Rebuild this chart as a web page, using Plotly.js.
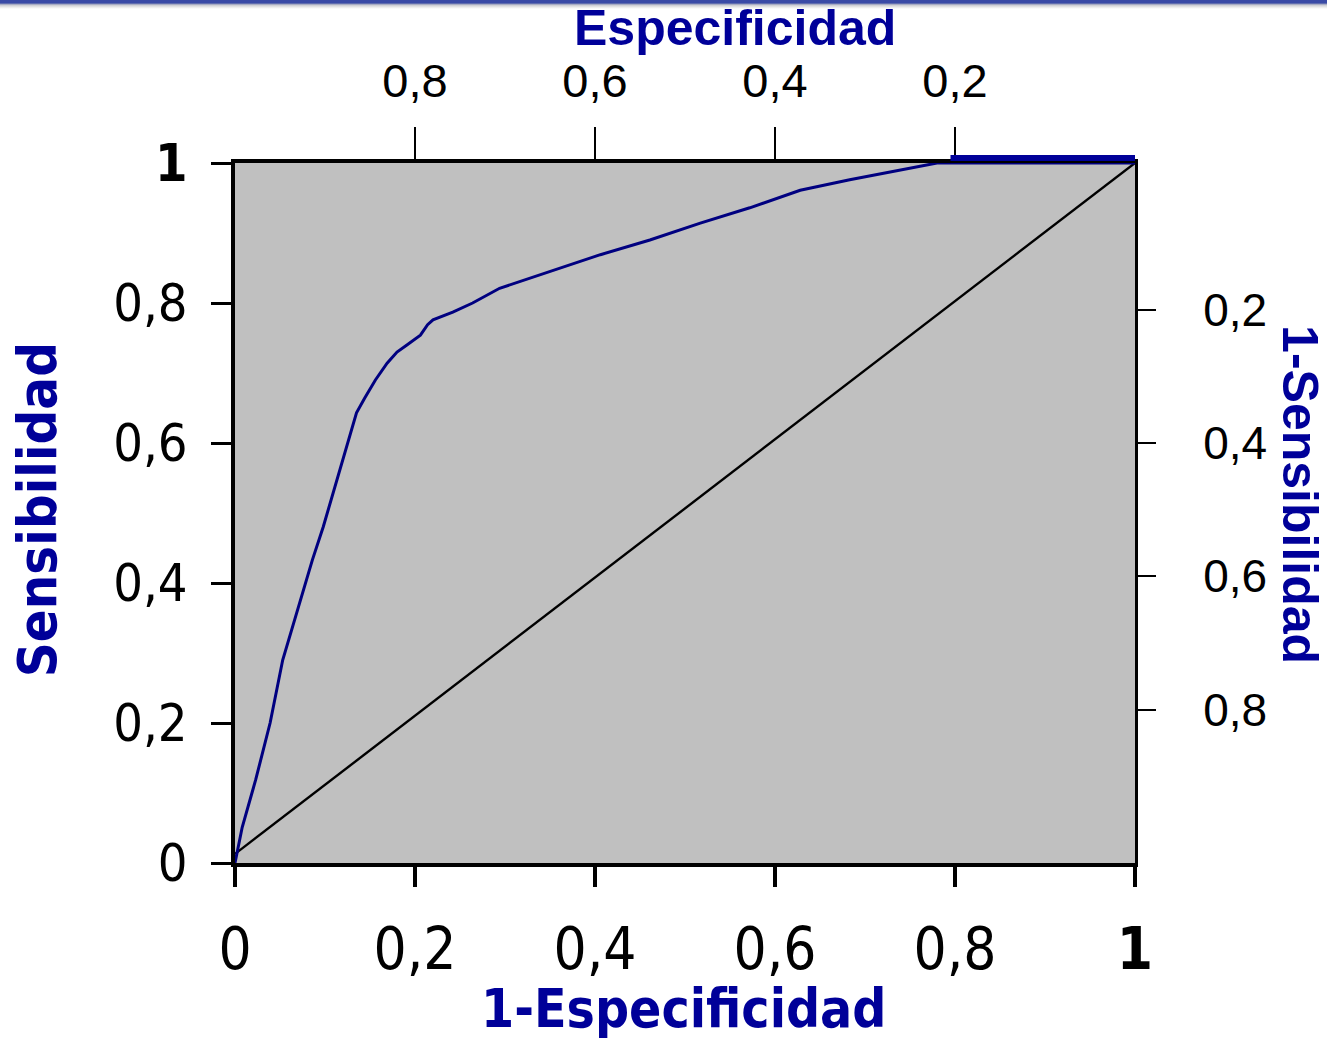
<!DOCTYPE html>
<html>
<head>
<meta charset="utf-8">
<script src="https://cdn.plot.ly/plotly-3.0.1.min.js"></script>
<style>
  html, body { margin: 0; padding: 0; background: #ffffff; }
  #chart { width: 1327px; height: 1038px; }
  #bar { position: absolute; left: 0; top: 0; width: 1327px; height: 9px; z-index: 10;
         background: linear-gradient(to bottom, #3a4aa6 0px, #3a4aa6 3px, #8890b8 4px, #c8c8d0 5px, #e8e8e8 7px, #ffffff 9px); }
</style>
</head>
<body>
<div id="bar"></div>
<div id="chart"></div>
<script>
// ROC curve: 1-Especificidad (x) vs Sensibilidad (y)
const fpr = [0, 0.008, 0.023, 0.039, 0.053, 0.069, 0.086, 0.098, 0.109, 0.121, 0.128, 0.135, 0.144, 0.156, 0.169, 0.180, 0.191, 0.206, 0.214, 0.220, 0.242, 0.264, 0.294, 0.339, 0.406, 0.461, 0.517, 0.572, 0.628, 0.683, 0.739, 0.780, 1.0];
const tpr = [0, 0.051, 0.119, 0.200, 0.290, 0.361, 0.433, 0.480, 0.529, 0.580, 0.614, 0.643, 0.664, 0.690, 0.714, 0.730, 0.740, 0.754, 0.769, 0.776, 0.787, 0.800, 0.821, 0.840, 0.869, 0.890, 0.914, 0.936, 0.961, 0.976, 0.990, 1.0, 1.0];
// reference diagonal
const diagX = [0, 1];
const diagY = [0.013, 1];
// tick values
const bottomTicks = [0, 0.2, 0.4, 0.6, 0.8, 1];
const leftTicks = [0, 0.2, 0.4, 0.6, 0.8, 1];
const topTicks = [0.8, 0.6, 0.4, 0.2];       // Especificidad
const rightTicks = [0.2, 0.4, 0.6, 0.8];     // 1-Sensibilidad
// titles
const titleTop = 'Especificidad';
const titleBottom = '1-Especificidad';
const titleLeft = 'Sensibilidad';
const titleRight = '1-Sensibilidad';

const fmt = v => (v === 1 ? '<b>1</b>' : String(v).replace('.', ','));
const fmtPlain = v => String(v).replace('.', ',');

const navy = '#000080';
const titleBlue = '#000099';
const pixelFont = 'DejaVu Sans Condensed, DejaVu Sans, sans-serif';
const arialFont = 'Liberation Sans, Arial, sans-serif';

const traces = [
  { x: diagX, y: diagY, type: 'scatter', mode: 'lines', line: { color: '#000000', width: 2.4 }, hoverinfo: 'skip', showlegend: false, xaxis: 'x', yaxis: 'y' },
  { x: fpr, y: tpr, type: 'scatter', mode: 'lines', line: { color: navy, width: 3 }, hoverinfo: 'skip', showlegend: false, xaxis: 'x', yaxis: 'y' },
  { x: [0.5], y: [0.5], type: 'scatter', mode: 'markers', marker: { opacity: 0 }, hoverinfo: 'skip', showlegend: false, xaxis: 'x2', yaxis: 'y2' }
];

const layout = {
  width: 1327, height: 1038,
  margin: { l: 235, r: 192, t: 163, b: 175 },
  paper_bgcolor: '#ffffff',
  plot_bgcolor: '#c0c0c0',
  showlegend: false,
  xaxis: {
    range: [0, 1], tickvals: bottomTicks, ticktext: bottomTicks.map(fmt),
    ticks: 'outside', ticklen: 20, tickwidth: 4, tickcolor: '#000',
    showline: true, linewidth: 4, linecolor: '#000', showgrid: false, zeroline: false,
    ticklabelstandoff: 12,
    tickfont: { family: pixelFont, size: 58, color: '#000' }
  },
  yaxis: {
    range: [0, 1], tickvals: leftTicks, ticktext: leftTicks.map(fmt),
    ticks: 'outside', ticklen: 20, tickwidth: 3, tickcolor: '#000',
    showline: true, linewidth: 4, linecolor: '#000', showgrid: false, zeroline: false,
    ticklabelstandoff: 13,
    tickfont: { family: pixelFont, size: 52, color: '#000' }
  },
  xaxis2: {
    overlaying: 'x', side: 'top', anchor: 'y', range: [1, 0],
    tickvals: topTicks, ticktext: topTicks.map(fmtPlain),
    ticks: 'outside', ticklen: 32, tickwidth: 2, tickcolor: '#000',
    showline: true, linewidth: 4, linecolor: '#000', showgrid: false, zeroline: false,
    ticklabelstandoff: 11,
    tickfont: { family: arialFont, size: 47, color: '#000' }
  },
  yaxis2: {
    overlaying: 'y', side: 'right', anchor: 'x', range: [1.03, -0.02],
    tickvals: rightTicks, ticktext: rightTicks.map(fmtPlain),
    ticks: 'outside', ticklen: 18, tickwidth: 2, tickcolor: '#000',
    showline: true, linewidth: 3, linecolor: '#000', showgrid: false, zeroline: false,
    ticklabelstandoff: 38,
    tickfont: { family: arialFont, size: 46, color: '#000' }
  },
  shapes: [
    { type: 'rect', xref: 'x', yref: 'paper', x0: 0.795, x1: 1.003, ysizemode: 'pixel', yanchor: 1, y0: 2, y1: 8,
      fillcolor: titleBlue, line: { width: 0 }, layer: 'above' }
  ],
  annotations: [
    { text: '<b>' + titleTop + '</b>', xref: 'paper', yref: 'paper', x: 0.5556, y: 1.193, xanchor: 'center', yanchor: 'middle', showarrow: false,
      font: { family: arialFont, size: 50, color: titleBlue } },
    { text: '<b>' + titleBottom + '</b>', xref: 'paper', yref: 'paper', x: 0.498, y: -0.208, xanchor: 'center', yanchor: 'middle', showarrow: false,
      font: { family: pixelFont, size: 53, color: titleBlue } },
    { text: '<b>' + titleLeft + '</b>', xref: 'paper', yref: 'paper', x: -0.22, y: 0.504, xanchor: 'center', yanchor: 'middle', showarrow: false, textangle: -90,
      font: { family: pixelFont, size: 54, color: titleBlue } },
    { text: '<b>' + titleRight + '</b>', xref: 'paper', yref: 'paper', x: 1.183, y: 0.526, xanchor: 'center', yanchor: 'middle', showarrow: false, textangle: 90,
      font: { family: arialFont, size: 50, color: titleBlue } }
  ]
};

Plotly.newPlot('chart', traces, layout, { displayModeBar: false, staticPlot: true });
</script>
</body>
</html>
